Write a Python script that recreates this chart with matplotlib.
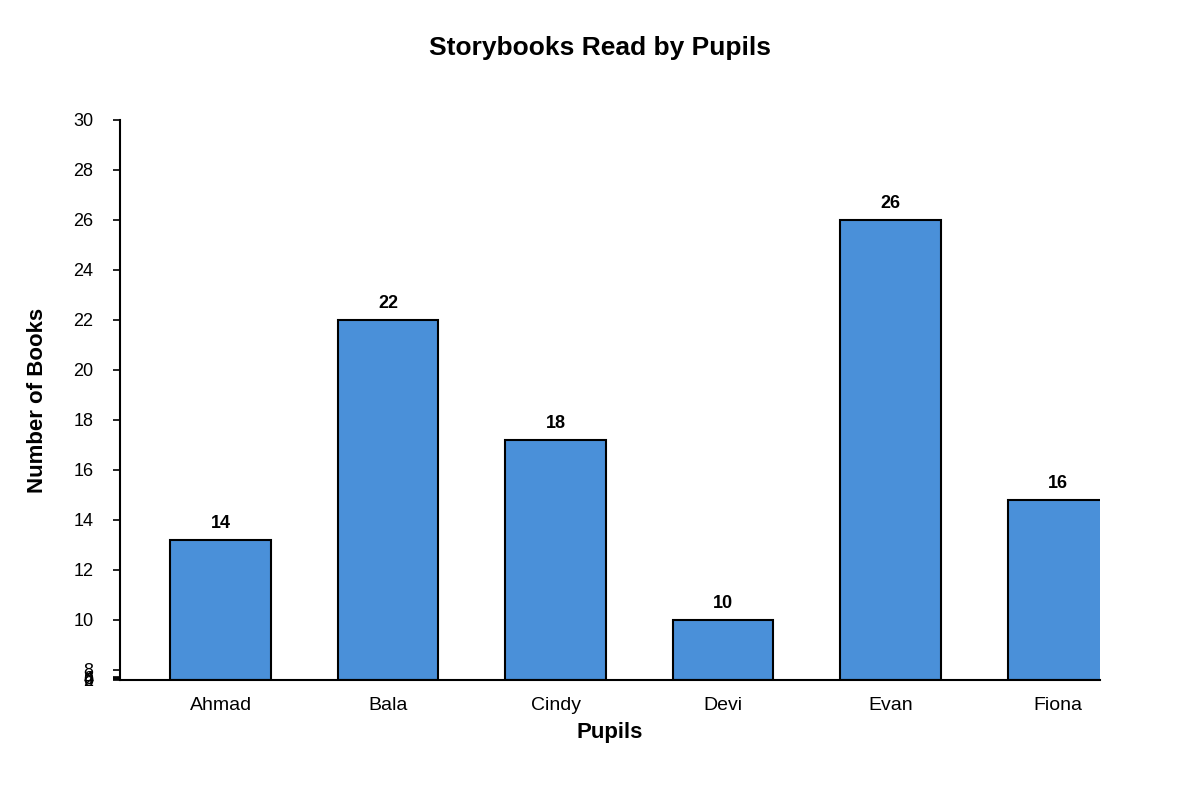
import matplotlib
matplotlib.use("Agg")
import matplotlib.pyplot as plt
import numpy as np

plt.rcParams['font.family'] = ['Liberation Sans', 'DejaVu Sans']

pupils = ["Ahmad", "Bala", "Cindy", "Devi", "Evan", "Fiona"]
bar_heights = [13.2, 22, 17.2, 10, 26, 14.8]
value_labels = [14, 22, 18, 10, 26, 16]
yticks = [0, 2, 4, 6, 8, 10, 12, 14, 16, 18, 20, 22, 24, 26, 28, 30]

def fwd(y):
    y = np.asarray(y, dtype=float)
    return np.where(y >= 8, y, 7.6 + y * 0.02)

def inv(y):
    y = np.asarray(y, dtype=float)
    return np.where(y >= 8, y, (y - 7.6) / 0.02)

fig = plt.figure(figsize=(12, 8), dpi=100)
ax = fig.add_axes([0.1, 0.15, 0.8167, 0.70])
ax.set_yscale('function', functions=(fwd, inv))
x = np.arange(len(pupils))
ax.bar(x, bar_heights, width=0.6, color='#4a90d9', edgecolor='black', linewidth=1.5)
for xi, h, lab in zip(x, bar_heights, value_labels):
    ax.text(xi, h + 0.3, str(lab), ha='center', va='bottom', fontsize=13, fontweight='bold')
ax.set_ylim(0, 30)
ax.set_xlim(-0.6, 5.25)
ax.set_yticks(yticks)
ax.set_yticklabels([str(t) for t in yticks])
ax.set_xticks(x)
ax.set_xticklabels(pupils)
ax.tick_params(axis='x', length=0, labelsize=14, pad=12)
ax.tick_params(axis='y', labelsize=13, direction='out', length=5, width=1.2, pad=14)
for s in ['top', 'right']:
    ax.spines[s].set_visible(False)
for s in ['left', 'bottom']:
    ax.spines[s].set_linewidth(1.5)
ax.set_xlabel("Pupils", fontsize=16, fontweight='bold', labelpad=6)
ax.set_ylabel("Number of Books", fontsize=16, fontweight='bold', labelpad=18)
fig.suptitle("Storybooks Read by Pupils", fontsize=19, fontweight='bold', y=0.955)
fig.savefig("out.png", dpi=100)
